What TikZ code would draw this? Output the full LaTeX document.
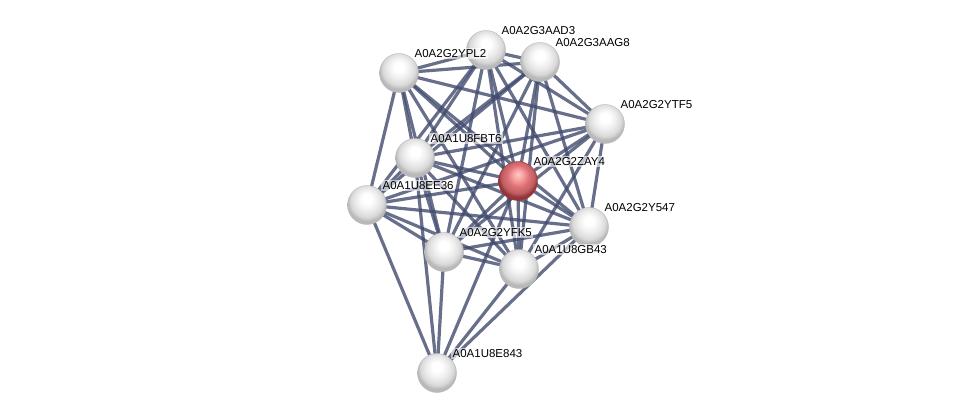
\documentclass[tikz,border=0pt]{standalone}
\usepackage{fontspec}
\setmainfont{Liberation Sans}
\usetikzlibrary{backgrounds}

\definecolor{edgeblue}{RGB}{66,75,110}
\definecolor{pinklight}{RGB}{250,165,165}
\definecolor{pinkmid}{RGB}{222,112,116}
\definecolor{pinkrim}{RGB}{150,52,56}
\pgfdeclareradialshading{protball}{\pgfqpoint{0bp}{9bp}}{%
  color(0bp)=(white); color(6bp)=(white); color(14bp)=(gray!14);
  color(21bp)=(gray!30); color(25bp)=(gray!55); color(50bp)=(gray!55)}
\pgfdeclareradialshading{queryball}{\pgfqpoint{0bp}{9bp}}{%
  color(0bp)=(pinklight!60!white); color(6bp)=(pinklight); color(14bp)=(pinkmid);
  color(21bp)=(pinkmid!85!black); color(25bp)=(pinkrim); color(50bp)=(pinkrim)}

\begin{document}
\begin{tikzpicture}[
  x = 1pt, y = -1pt,
  every node/.style = {font=\fontsize{11.5}{13}\selectfont},
  protein/.style = {circle, minimum size=39pt, inner sep=0pt,
                    shading=protball, draw=gray!55, line width=0.4pt},
  query/.style   = {protein, shading=queryball, draw=pinkrim},
  lbl/.style     = {anchor=south west, inner sep=1.5pt, fill=white,
                    fill opacity=0.6, text opacity=1},
  edge/.style    = {draw=edgeblue, line width=3.2pt, opacity=0.8}
]
\useasboundingbox (0,0) rectangle (976,419);

% --- proteins ---
\node[protein] (ypl2) at (399,73)  {};
\node[protein] (aad3) at (486,50)  {};
\node[protein] (aag8) at (540,62)  {};
\node[protein] (ytf5) at (605,124) {};
\node[protein] (fbt6) at (415,158) {};
\node[query]   (zay4) at (518,181) {};
\node[protein] (ee36) at (367,205) {};
\node[protein] (y547) at (589,227) {};
\node[protein] (yfk5) at (444,252) {};
\node[protein] (gb43) at (519,269) {};
\node[protein] (e843) at (437,373) {};

% --- names (on top of the balls) ---
\node[lbl, at=(ypl2.north east)] (ypl2-name) {A0A2G2YPL2};
\node[lbl, at=(aad3.north east)] (aad3-name) {A0A2G3AAD3};
\node[lbl, at=(aag8.north east)] (aag8-name) {A0A2G3AAG8};
\node[lbl, at=(ytf5.north east)] (ytf5-name) {A0A2G2YTF5};
\node[lbl, at=(fbt6.north east)] (fbt6-name) {A0A1U8FBT6};
\node[lbl, at=(zay4.north east)] (zay4-name) {A0A2G2ZAY4};
\node[lbl, at=(ee36.north east)] (ee36-name) {A0A1U8EE36};
\node[lbl, at=(y547.north east)] (y547-name) {A0A2G2Y547};
\node[lbl, at=(yfk5.north east)] (yfk5-name) {A0A2G2YFK5};
\node[lbl, at=(gb43.north east)] (gb43-name) {A0A1U8GB43};
\node[lbl, at=(e843.north east)] (e843-name) {A0A1U8E843};

% --- interactions ---
\begin{scope}[on background layer]
  \foreach \a/\b in {ypl2/aad3, ypl2/aag8, ypl2/ytf5, ypl2/fbt6, ypl2/zay4,
                     ypl2/ee36, ypl2/yfk5, ypl2/gb43, ypl2/y547,
                     aad3/aag8, aad3/ytf5, aad3/fbt6, aad3/zay4, aad3/yfk5,
                     aad3/gb43, aad3/y547, aad3/ee36,
                     aag8/ytf5, aag8/fbt6, aag8/zay4, aag8/ee36, aag8/yfk5,
                     aag8/gb43, aag8/y547,
                     ytf5/fbt6, ytf5/zay4, ytf5/ee36, ytf5/yfk5, ytf5/gb43,
                     ytf5/y547,
                     fbt6/zay4, fbt6/ee36, fbt6/yfk5, fbt6/gb43, fbt6/y547,
                     fbt6/e843,
                     zay4/ee36, zay4/yfk5, zay4/gb43, zay4/y547, zay4/e843,
                     ee36/yfk5, ee36/gb43, ee36/y547, ee36/e843,
                     yfk5/gb43, yfk5/y547, yfk5/e843,
                     gb43/y547, gb43/e843, y547/e843}
    \draw[edge] (\a.center) -- (\b.center);
\end{scope}

\end{tikzpicture}
\end{document}
